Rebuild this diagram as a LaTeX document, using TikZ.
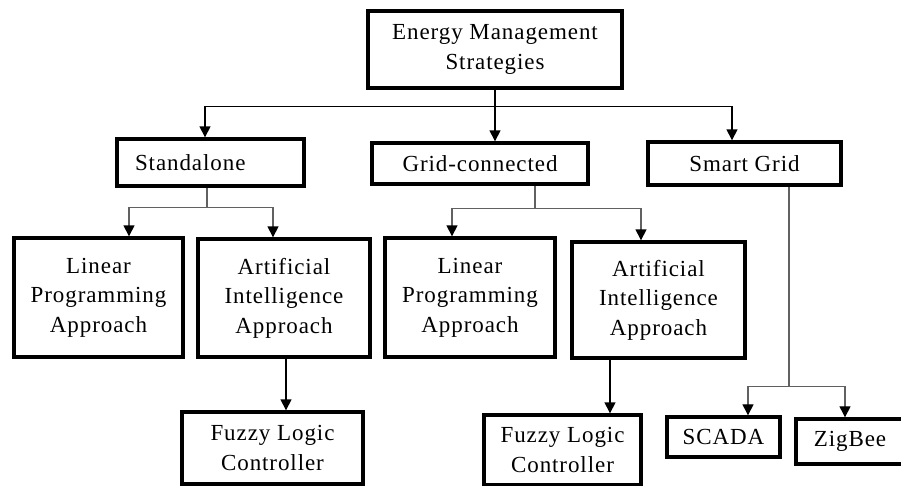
\documentclass[tikz,border=0pt]{standalone}
\usepackage{fontspec}
\setmainfont{Liberation Serif}[LetterSpace=4]
\usetikzlibrary{arrows.meta}
\begin{document}
\begin{tikzpicture}[x=1pt,y=-1pt,
  box/.style={draw, line width=3.4pt, inner sep=0pt, align=center,
              font=\fontsize{23}{29.5}\selectfont},
  arr/.style={line width=1.5pt, -{Triangle[length=11pt,width=11pt,black]}},
  link/.style={line width=1.5pt},
  grayarr/.style={arr, draw=black!62},
  graylink/.style={link, draw=black!62}]
\useasboundingbox (0,0) rectangle (901,485);
\begin{scope}
\clip (0,0) rectangle (901,485);
% nodes
\node[box, minimum width=254pt, minimum height=77pt] (top) at (495,49.5) {Energy Management\\Strategies};
\node[box, minimum width=187pt, minimum height=47pt, text width=151pt, align=left] (sa) at (210.5,162.5) {Standalone};
\node[box, minimum width=216pt, minimum height=41pt] (gc) at (480,163.5) {Grid-connected};
\node[box, minimum width=193pt, minimum height=43pt] (sg) at (744.5,163.5) {Smart Grid};
\node[box, minimum width=169pt, minimum height=119pt] (lp1) at (98.5,297.5) {Linear\\Programming\\Approach};
\node[box, minimum width=172pt, minimum height=118pt] (ai1) at (284,298) {Artificial\\Intelligence\\Approach};
\node[box, minimum width=170pt, minimum height=119pt] (lp2) at (470,297.5) {Linear\\Programming\\Approach};
\node[box, minimum width=173pt, minimum height=116pt] (ai2) at (658.5,300) {Artificial\\Intelligence\\Approach};
\node[box, minimum width=181pt, minimum height=72pt] (fz1) at (272.5,448) {Fuzzy Logic\\Controller};
\node[box, minimum width=157pt, minimum height=70pt] (fz2) at (562.5,450) {Fuzzy Logic\\Controller};
\node[box, minimum width=113pt, minimum height=40pt] (scada) at (723.5,437) {SCADA};
\node[box, minimum width=108pt, minimum height=45pt] (zig) at (850,441.5) {ZigBee};
\end{scope}
% top level connectors
\coordinate (bus) at ([yshift=-17pt]top.south);
\draw[link] (top.south) -- (bus);
\draw[arr] (bus) -| ([xshift=-5.5pt]sa.north);
\draw[arr] (bus) -- (gc.north -| bus);
\draw[arr] (bus) -| ([xshift=-12.5pt]sg.north);
% standalone split
\coordinate (sab) at ([xshift=-3.5pt,yshift=-20pt]sa.south);
\draw[graylink] ([xshift=-3.5pt]sa.south) -- (sab);
\draw[grayarr] (sab) -| ([xshift=30.5pt]lp1.north);
\draw[grayarr] (sab) -| ([xshift=-11pt]ai1.north);
% grid-connected split
\coordinate (gcb) at ([xshift=55pt,yshift=-23pt]gc.south);
\draw[graylink] ([xshift=55pt]gc.south) -- (gcb);
\draw[grayarr] (gcb) -| ([xshift=-18pt]lp2.north);
\draw[grayarr] (gcb) -| ([xshift=-17.5pt]ai2.north);
% AI to fuzzy
\draw[arr] ([xshift=2pt]ai1.south) -- ([xshift=2pt]ai1.south |- fz1.north);
\draw[arr] ([xshift=-48.5pt]ai2.south) -- ([xshift=-48.5pt]ai2.south |- fz2.north);
% smart grid split
\coordinate (sgb) at ([xshift=44.5pt,yshift=-200pt]sg.south);
\draw[graylink, line width=1.3pt] ([xshift=44.5pt]sg.south) -- (sgb);
\draw[grayarr, line width=1.3pt] (sgb) -| ([xshift=24.5pt]scada.north);
\draw[grayarr, line width=1.3pt] (sgb) -| ([xshift=-5pt]zig.north);
\end{tikzpicture}
\end{document}
